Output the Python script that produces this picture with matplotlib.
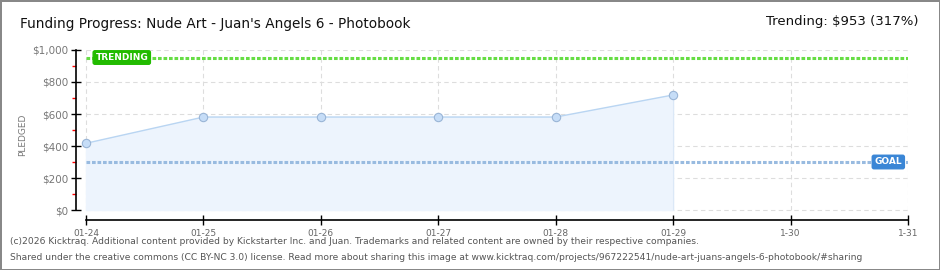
import numpy as np
import matplotlib.pyplot as plt

# ---- data ----
days = ['01-24', '01-25', '01-26', '01-27', '01-28', '01-29', '1-30', '1-31']
pledged = [417, 581, 581, 581, 581, 719]
goal = 300
trending = 953
y_ticks = [0, 200, 400, 600, 800, 1000]
y_labels = ['$0', '$200', '$400', '$600', '$800', '$1,000']

title = "Funding Progress: Nude Art - Juan's Angels 6 - Photobook"
trend_text = "Trending: \\$953 (317%)"
footer_1 = ("(c)2026 Kicktraq. Additional content provided by Kickstarter Inc. and Juan. "
            "Trademarks and related content are owned by their respective companies.")
footer_2 = ("Shared under the creative commons (CC BY-NC 3.0) license. Read more about sharing this "
            "image at www.kicktraq.com/projects/967222541/nude-art-juans-angels-6-photobook/#sharing")

W, H = 940, 270
fig = plt.figure(figsize=(W / 100, H / 100), dpi=100)
fig.patch.set_facecolor('white')
fig.patch.set_edgecolor('#888888')
fig.patch.set_linewidth(2)

# axes: spine left at px 76, bottom spine at px 220, data top at 50, right at 908
ax = fig.add_axes([76 / W, (H - 220) / H, (908 - 76) / W, (220 - 50) / H])
x = np.arange(len(days))
px_per_day = (908 - 86) / (len(days) - 1)
ax.set_xlim(-10 / px_per_day, len(days) - 1)
ax.set_ylim(-10 / 0.16, 1000)

for s in ['top', 'right']:
    ax.spines[s].set_visible(False)
ax.spines['left'].set_bounds(0, 1000)
ax.spines['bottom'].set_bounds(0, len(days) - 1)
ax.spines['left'].set_linewidth(1.2)
ax.spines['bottom'].set_linewidth(1.2)

# grid
ax.vlines(x, 0, 1000, colors='#dddddd', linestyles=(0, (4, 3)), linewidth=0.8, zorder=0)
ax.hlines(y_ticks, 0, len(days) - 1, colors='#dddddd', linestyles=(0, (4, 3)), linewidth=0.8, zorder=0)

# pledged area
xp = x[:len(pledged)]
ax.fill_between(xp, pledged, 0, color='#edf4fd', zorder=1)
ax.plot(xp, pledged, color='#b9d5f2', linewidth=1, zorder=2)
ax.vlines(xp[-1], 0, pledged[-1], colors='#dbe8f7', linewidth=0.8, zorder=2)
ax.plot(xp, pledged, linestyle='none', marker='o', markersize=6,
        markerfacecolor='#c6ddf7', markeredgecolor='#9ab5d6', markeredgewidth=0.8, zorder=3)

# trending and goal lines
ax.plot([x[0], x[-1]], [trending, trending], color='#66dd44', linewidth=2.2,
        linestyle=(0, (1.2, 0.6)), zorder=2)
ax.plot([x[0], x[-1]], [goal, goal], color='#99bbe0', linewidth=2.2,
        linestyle=(0, (1.2, 0.6)), zorder=2)

ax.text(0.08, trending, 'TRENDING', color='white', fontsize=6.5, fontweight='bold',
        va='center', ha='left', zorder=5,
        bbox=dict(boxstyle='round,pad=0.25,rounding_size=0.2', fc='#22bb00', ec='#22bb00'))
ax.text(len(days) - 1.05, goal, 'GOAL', color='white', fontsize=6.5, fontweight='bold',
        va='center', ha='right', zorder=5,
        bbox=dict(boxstyle='round,pad=0.25,rounding_size=0.2', fc='#3a86d6', ec='#3a86d6'))

# ticks
ax.set_yticks(y_ticks)
ax.set_yticklabels(y_labels)
ax.set_yticks([100, 300, 500, 700, 900], minor=True)
ax.tick_params(axis='y', which='major', direction='inout', length=7, width=1,
               labelsize=7.5, labelcolor='#777777', pad=2)
ax.tick_params(axis='y', which='minor', direction='out', length=3, width=1, color='red')
ax.set_xticks(x)
ax.set_xticklabels(days)
ax.tick_params(axis='x', which='major', direction='inout', length=7, width=1,
               labelsize=6.5, labelcolor='#666666', pad=3)
ax.set_ylabel('PLEDGED', fontsize=6.5, color='#777777', labelpad=4)

# texts
fig.text(20 / W, 1 - 24 / H, title, fontsize=9.8, va='center', ha='left', color='#111111')
fig.text(918 / W, 1 - 22 / H, trend_text, fontsize=9.5, va='center', ha='right', color='#111111')
fig.text(10 / W, 1 - 242 / H, footer_1, fontsize=6.6, va='center', ha='left', color='#555555')
fig.text(10 / W, 1 - 257 / H, footer_2, fontsize=6.6, va='center', ha='left', color='#555555')

fig.savefig('out.png', dpi=100, facecolor=fig.get_facecolor(), edgecolor=fig.get_edgecolor())
